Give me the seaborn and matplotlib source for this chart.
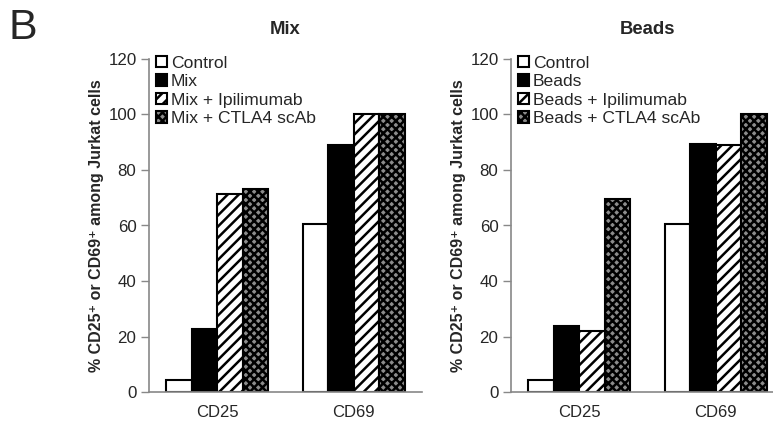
import matplotlib
matplotlib.use("Agg")
import matplotlib.pyplot as plt
import seaborn as sns
import pandas as pd
from matplotlib.patches import Patch

sns.set_style("white")
plt.rcParams['font.family'] = ['Liberation Sans', 'DejaVu Sans']
plt.rcParams['hatch.linewidth'] = 1.8

markers = ["CD25", "CD69"]
mix_groups = ["Control", "Mix", "Mix + Ipilimumab", "Mix + CTLA4 scAb"]
mix_cd25 = [4.3, 22.8, 71.2, 73.0]
mix_cd69 = [60.7, 89.0, 100.0, 100.0]
beads_groups = ["Control", "Beads", "Beads + Ipilimumab", "Beads + CTLA4 scAb"]
beads_cd25 = [4.5, 23.7, 22.0, 69.7]
beads_cd69 = [60.7, 89.5, 88.9, 100.0]
yticks = [0, 20, 40, 60, 80, 100, 120]
ylabel = "% CD25\u207a or CD69\u207a among Jurkat cells"

faces = ["white", "black", "white", "#8c8c8c"]
hatches = [None, None, "///", "xxxx"]

W, H = 773, 423
fig = plt.figure(figsize=(W / 100, H / 100), dpi=100)

def draw(ax_px, title, groups, cd25, cd69):
    x0, x1, y0, y1 = ax_px
    ax = fig.add_axes([x0 / W, 1 - y1 / H, (x1 - x0) / W, (y1 - y0) / H])
    df = pd.DataFrame({
        "marker": markers * len(groups),
        "group": [g for g in groups for _ in markers],
        "value": [v for i in range(len(groups)) for v in (cd25[i], cd69[i])],
    })
    sns.barplot(data=df, x="marker", y="value", hue="group", hue_order=groups,
                order=markers, width=0.745, gap=0, ax=ax, legend=False,
                errorbar=None)
    for i, cont in enumerate(ax.containers):
        for p in cont:
            p.set_facecolor(faces[i])
            p.set_edgecolor("black")
            p.set_linewidth(1.5)
            if hatches[i]:
                p.set_hatch(hatches[i])
    ax.set_xlim(-0.5, 1.5)
    ax.set_ylim(0, 120)
    ax.set_yticks(yticks)
    ax.tick_params(axis='y', direction='out', length=6, width=1, color='#888888',
                   labelsize=12.2, pad=3, left=True)
    ax.tick_params(axis='x', length=0, labelsize=12, pad=9)
    for s in ["top", "right"]:
        ax.spines[s].set_visible(False)
    for s in ["left", "bottom"]:
        ax.spines[s].set_color("#888888")
        ax.spines[s].set_linewidth(1.2)
    ax.set_xlabel("")
    ax.set_ylabel(ylabel, fontsize=11.5, fontweight='bold', labelpad=3)
    handles = [Patch(facecolor=faces[i], edgecolor='black', hatch=hatches[i], linewidth=1.5)
               for i in range(len(groups))]
    ax.legend(handles, groups, loc='upper left', bbox_to_anchor=(0.025, 1.01),
              frameon=False, fontsize=12.6, handlelength=0.65, handleheight=0.65,
              handletextpad=0.2, labelspacing=0.2, borderpad=0, borderaxespad=0)
    fig.text((x0 + x1) / 2 / W, 1 - 30 / H, title, ha='center', va='center',
             fontsize=13.3, fontweight='bold')
    return ax

draw((149, 422, 59, 392), "Mix", mix_groups, mix_cd25, mix_cd69)
draw((511, 784, 59, 392), "Beads", beads_groups, beads_cd25, beads_cd69)
fig.text(9 / W, 1 - 28 / H, "B", fontsize=31, ha='left', va='center')

fig.savefig("out.png", dpi=100)
